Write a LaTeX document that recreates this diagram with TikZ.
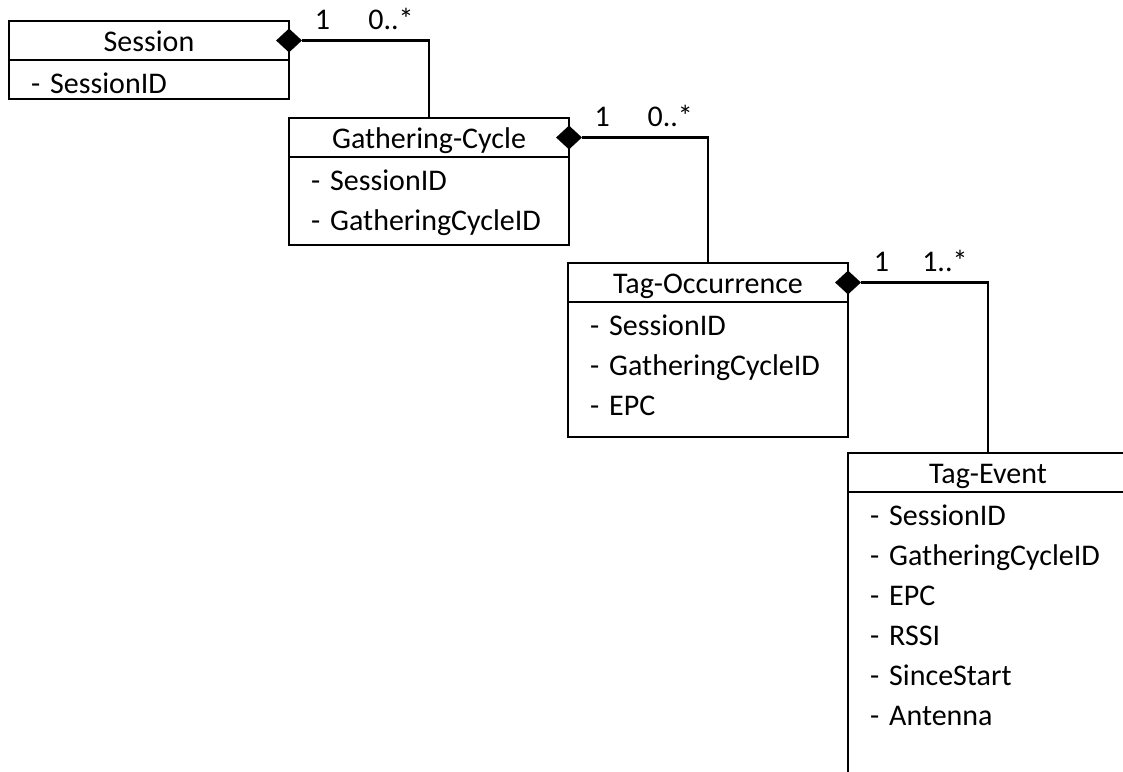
\documentclass[tikz,border=0pt]{standalone}
\usepackage{fontspec}
\setmainfont{Carlito}
\usetikzlibrary{positioning,shapes.geometric}

\begin{document}
\begin{tikzpicture}[x=1pt, y=-1pt,
    every node/.style={font=\fontsize{30}{40}\selectfont},
    cls/.style={draw, line width=2.6pt, minimum width=280pt, inner ysep=0pt, text height=30pt, text depth=9pt, outer sep=0pt, anchor=north west},
    attr/.style={draw, line width=2.6pt, text width=236pt, inner xsep=22pt, inner ysep=0pt, text height=33pt, align=left, outer sep=0pt},
    agg/.style={diamond, fill=black, minimum width=26pt, minimum height=24pt, inner sep=0pt},
    conn/.style={line width=2.6pt},
    mult/.style={anchor=base, yshift=11pt, inner sep=0pt}
]
\useasboundingbox (0,0) rectangle (1123,771);
\clip (0,0) rectangle (1123,771);

% classes
\node[cls] (sess) at (9,21) {Session};
\node[attr, below=0pt of sess, text depth=6pt] (sessattr) {- SessionID};

\node[cls] (cyc) at (289,118) {Gathering-Cycle};
\node[attr, below=0pt of cyc, text depth=55pt] (cycattr) {- SessionID\\- GatheringCycleID};

\node[cls] (occ) at (568,263) {Tag-Occurrence};
\node[attr, below=0pt of occ, text depth=102pt] (occattr) {- SessionID\\- GatheringCycleID\\- EPC};

\node[cls] (evt) at (848,453) {Tag-Event};
\node[attr, below=0pt of evt, text depth=270pt] (evtattr) {- SessionID\\- GatheringCycleID\\- EPC\\- RSSI\\- SinceStart\\- Antenna};

% compositions
\node[agg] (sessagg) at (sess.east) {};
\node[agg] (cycagg) at (cyc.east) {};
\node[agg] (occagg) at (occ.east) {};

\draw[conn] (sessagg.east) -| node[mult, pos=0.08] (sessm1) {1} node[mult, pos=0.35] (sessm2) {0..*} (cyc.north);
\draw[conn] (cycagg.east) -| node[mult, pos=0.08] (cycm1) {1} node[mult, pos=0.35] (cycm2) {0..*} (occ.north);
\draw[conn] (occagg.east) -| node[mult, pos=0.08] (occm1) {1} node[mult, pos=0.33] (occm2) {1..*} (evt.north);
\end{tikzpicture}
\end{document}
